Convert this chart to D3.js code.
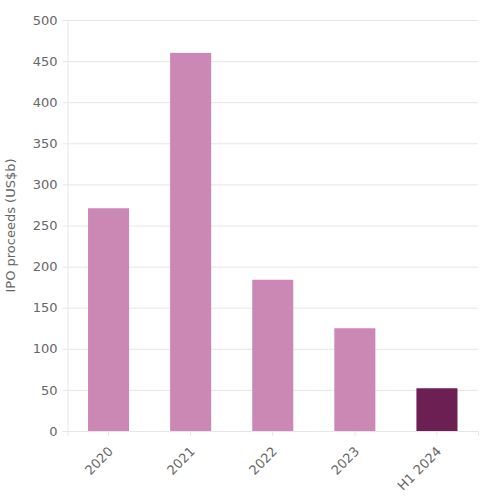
<!DOCTYPE html>
<html>
<head>
<meta charset="utf-8">
<script src="https://cdn.jsdelivr.net/npm/d3@7"></script>
<style>
  body { margin: 0; background: #fff; }
  text { font-family: "DejaVu Sans", sans-serif; }
</style>
</head>
<body>
<svg id="chart"></svg>
<script>
const categories = ["2020", "2021", "2022", "2023", "H1 2024"];
const proceeds = [271, 460, 184, 125, 52];
const yTicks = [0, 50, 100, 150, 200, 250, 300, 350, 400, 450, 500];
const yLabel = "IPO proceeds (US$b)";

const width = 489;
const height = 500;
const marginTop = 20;
const marginRight = 11;
const marginBottom = 69;
const marginLeft = 67.5;

const data = categories.map((c, i) => ({cat: c, value: proceeds[i]}));

const x = d3.scaleBand()
    .domain(categories)
    .range([marginLeft, width - marginRight])
    .paddingInner(0.5)
    .paddingOuter(0.25);

const y = d3.scaleLinear()
    .domain([0, 500])
    .range([height - marginBottom, marginTop]);

const svg = d3.select("#chart")
    .attr("width", width)
    .attr("height", height)
    .attr("viewBox", [0, 0, width, height]);

// grid lines + y axis
svg.append("g")
    .attr("transform", `translate(${marginLeft},0)`)
    .call(d3.axisLeft(y).tickValues(yTicks).tickSize(5).tickPadding(5))
    .call(g => g.select(".domain").attr("stroke", "#e6e6e6"))
    .call(g => g.selectAll(".tick line").attr("stroke", "#e6e6e6"))
    .call(g => g.selectAll(".tick line").clone()
        .attr("x2", width - marginLeft - marginRight)
        .attr("stroke", "#e6e6e6"))
    .call(g => g.selectAll(".tick text")
        .attr("fill", "#666")
        .attr("font-size", 13));

svg.append("text")
    .attr("transform", `translate(15,${(marginTop + height - marginBottom) / 2}) rotate(-90)`)
    .attr("text-anchor", "middle")
    .attr("fill", "#666")
    .attr("font-size", 13)
    .text(yLabel);

// bars
svg.append("g")
  .selectAll("rect")
  .data(data)
  .join("rect")
    .attr("x", d => x(d.cat))
    .attr("y", d => y(d.value))
    .attr("width", x.bandwidth())
    .attr("height", d => y(0) - y(d.value))
    .attr("fill", d => d.cat === "H1 2024" ? "#6b1f52" : "#cc88b5");

// x axis
svg.append("g")
    .attr("transform", `translate(0,${height - marginBottom})`)
    .call(d3.axisBottom(x).tickSize(5).tickPadding(6))
    .call(g => g.select(".domain").attr("stroke", "#e6e6e6"))
    .call(g => g.selectAll(".tick line").attr("stroke", "#e6e6e6"))
    .call(g => g.selectAll(".tick text")
        .attr("fill", "#666")
        .attr("font-size", 13)
        .attr("text-anchor", "end")
        .attr("x", 0)
        .attr("y", 0)
        .attr("dy", "0.35em")
        .attr("transform", "translate(2,18) rotate(-45)"));
</script>
</body>
</html>
